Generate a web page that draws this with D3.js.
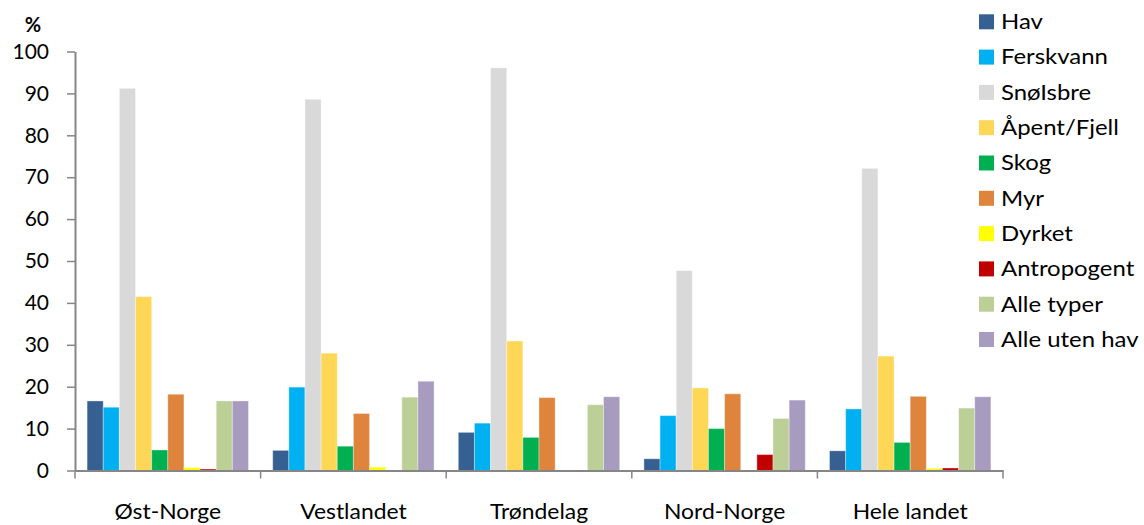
<!DOCTYPE html>
<html><head><meta charset="utf-8">
<script src="https://cdn.jsdelivr.net/npm/d3@7"></script>
<style>body{margin:0;background:#fff;} svg{display:block;font-family:Lato,"Open Sans",sans-serif;}</style>
</head><body><svg id="c" width="1144" height="525"></svg>
<script>
const categories = ["Øst-Norge","Vestlandet","Trøndelag","Nord-Norge","Hele landet"];
const seriesNames = ["Hav","Ferskvann","SnøIsbre","Åpent/Fjell","Skog","Myr","Dyrket","Antropogent","Alle typer","Alle uten hav"];
const colors = ["#376092","#00B0F0","#D9D9D9","#FDD755","#00B050","#DE843D","#FFFF00","#C00000","#BBCF97","#A79BC0"];
const hav         = [16.6, 4.8, 9.1, 2.8, 4.7];
const ferskvann   = [15.1, 19.9, 11.3, 13.1, 14.7];
const snoisbre    = [91.2, 88.6, 96.1, 47.7, 72.1];
const apentFjell  = [41.5, 28.0, 30.9, 19.7, 27.3];
const skog        = [4.9, 5.8, 7.9, 10.0, 6.7];
const myr         = [18.2, 13.6, 17.4, 18.3, 17.7];
const dyrket      = [0.7, 0.8, 0, 0, 0.5];
const antropogent = [0.35, 0, 0, 3.8, 0.6];
const alleTyper   = [16.6, 17.5, 15.7, 12.4, 14.9];
const alleUtenHav = [16.6, 21.3, 17.6, 16.8, 17.6];
const values = [hav, ferskvann, snoisbre, apentFjell, skog, myr, dyrket, antropogent, alleTyper, alleUtenHav];
const yTicks = [0,10,20,30,40,50,60,70,80,90,100];

const svg = d3.select("#c");
const x0 = d3.scaleBand().domain(categories).range([75, 1003]).paddingInner(0).paddingOuter(0);
const x1 = d3.scaleBand().domain(seriesNames).range([0, x0.bandwidth()]).paddingOuter(0.75).paddingInner(0);
const y = d3.scaleLinear().domain([0,100]).range([470.5, 51.5]);

// bars
categories.forEach((c, ci) => {
  const g = svg.append("g").attr("transform", `translate(${x0(c)},0)`);
  seriesNames.forEach((s, si) => {
    const v = values[si][ci];
    if (v <= 0) return;
    g.append("rect")
      .attr("x", x1(s)).attr("width", x1.bandwidth())
      .attr("y", y(v)).attr("height", y(0) - y(v))
      .attr("fill", colors[si])
      .attr("stroke", "rgba(255,255,255,0.35)").attr("stroke-width", 1);
  });
});

// y axis
const yAxis = svg.append("g").attr("transform","translate(75,0)")
  .call(d3.axisLeft(y).tickValues(yTicks).tickSize(8).tickSizeOuter(0).tickPadding(18));
yAxis.select(".domain").attr("stroke","#868686").attr("stroke-width",2);
yAxis.selectAll(".tick line").attr("stroke","#868686").attr("stroke-width",1.5);
yAxis.selectAll(".tick text").attr("font-size",21).attr("fill","#000").attr("font-family","Lato");

// x axis
const xAxis = svg.append("g").attr("transform",`translate(0,${y(0)})`)
  .call(d3.axisBottom(x0).tickSize(0).tickFormat(""));
xAxis.select(".domain").attr("stroke","#868686").attr("stroke-width",2);
svg.append("g").selectAll("text").data(categories).join("text")
  .attr("transform", d => `translate(${x0(d) + x0.bandwidth()/2},519) scale(1.09,1)`)
  .attr("text-anchor","middle").attr("font-size",21).attr("fill","#000").text(d => d);
// category boundary ticks
const bounds = categories.map(c => x0(c)).concat([x0.range()[1]]);
svg.append("g").selectAll("line").data(bounds).join("line")
  .attr("x1", d => d).attr("x2", d => d)
  .attr("y1", y(0)).attr("y2", y(0) + 8)
  .attr("stroke","#868686").attr("stroke-width",1.5);

// % label
svg.append("text").attr("x", 33).attr("y", 32).attr("text-anchor","middle")
  .attr("font-size", 20).attr("font-weight","bold").text("%");

// legend
const lg = svg.append("g").attr("transform","translate(979,0)");
seriesNames.forEach((s, i) => {
  const cy = 21.8 + i * 35.3;
  lg.append("rect").attr("x",0).attr("y",cy-7.5).attr("width",15).attr("height",15).attr("fill",colors[i]);
  lg.append("text").attr("transform",`translate(22,${cy}) scale(1.14,1)`).attr("dy","0.35em").attr("font-size",21).text(s);
});
</script></body></html>
